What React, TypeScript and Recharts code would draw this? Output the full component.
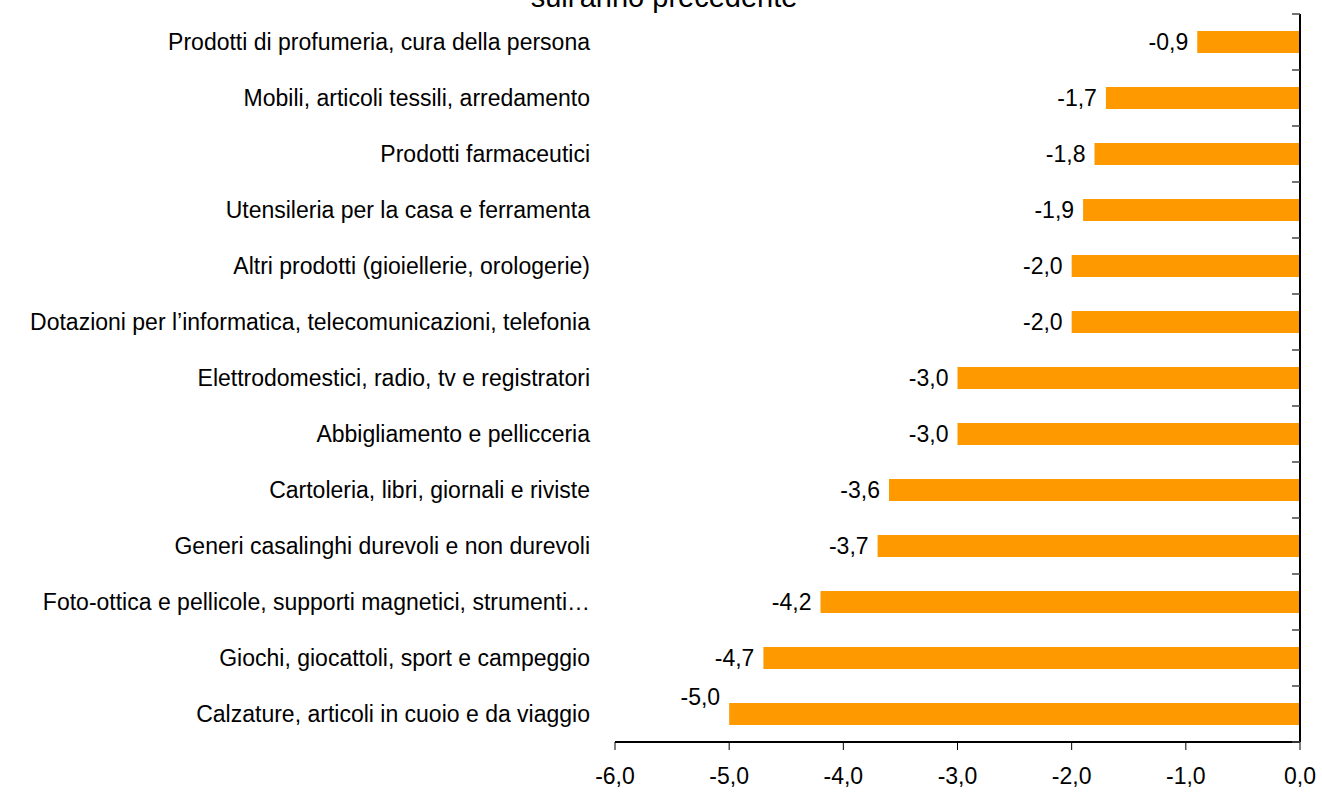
import React from "react";
import { BarChart, Bar, XAxis, YAxis, LabelList, ReferenceLine } from "recharts";

const categories = [
  "Prodotti di profumeria, cura della persona",
  "Mobili, articoli tessili, arredamento",
  "Prodotti farmaceutici",
  "Utensileria per la casa e ferramenta",
  "Altri prodotti (gioiellerie, orologerie)",
  "Dotazioni per l’informatica, telecomunicazioni, telefonia",
  "Elettrodomestici, radio, tv e registratori",
  "Abbigliamento e pellicceria",
  "Cartoleria, libri, giornali e riviste",
  "Generi casalinghi durevoli e non durevoli",
  "Foto-ottica e pellicole, supporti magnetici, strumenti…",
  "Giochi, giocattoli, sport e campeggio",
  "Calzature, articoli in cuoio e da viaggio",
];
const values = [-0.9, -1.7, -1.8, -1.9, -2.0, -2.0, -3.0, -3.0, -3.6, -3.7, -4.2, -4.7, -5.0];
const xTicks = [-6, -5, -4, -3, -2, -1, 0];
const title = "sull'anno precedente";

const data = categories.map((c, i) => ({ name: c, value: values[i] }));
const FONT = "'Liberation Sans', Arial, sans-serif";
const fmt = (v: number) => v.toFixed(1).replace(".", ",");

const CatTick = (props: any) => {
  const { x, y, payload } = props;
  return (
    <text x={x} y={y} dy="0.35em" textAnchor="end" fontFamily={FONT} fontSize={23} fill="#000">
      {payload.value}
    </text>
  );
};

// boundary tick marks on the right axis (between categories)
const BoundaryTick = (props: any) => {
  const { x, y, payload, index } = props;
  const half = payload && typeof payload.offset === "number" && payload.offset > 0 ? payload.offset : 28;
  const last = index === categories.length - 1;
  return (
    <g>
      <line x1={x - 8} x2={x} y1={y - half} y2={y - half} stroke="#444" strokeWidth={1.5} />
      {last && <line x1={x - 8} x2={x} y1={y + half} y2={y + half} stroke="#444" strokeWidth={1.5} />}
    </g>
  );
};

const XTick = (props: any) => {
  const { x, y, payload } = props;
  return (
    <text x={x} y={y} dy={32} textAnchor="middle" fontFamily={FONT} fontSize={23} fill="#000">
      {fmt(payload.value)}
    </text>
  );
};

const ValueLabel = (props: any) => {
  const { x, y, width, height, value, index } = props;
  const left = Math.min(x, x + width);
  let ty = y + height / 2;
  if (index === values.length - 1) ty -= 17;
  return (
    <text x={left - 9} y={ty} dy="0.35em" textAnchor="end" fontFamily={FONT} fontSize={23} fill="#000">
      {fmt(value)}
    </text>
  );
};

export default function App() {
  return (
    <div style={{ position: "absolute", left: 0, top: 0, width: 1322, height: 792, background: "#fff" }}>
      <svg width={1322} height={30} style={{ position: "absolute", left: 0, top: 0 }}>
        <text x={664} y={7} textAnchor="middle" fontFamily={FONT} fontSize={29} fill="#000">
          {title}
        </text>
      </svg>
      <BarChart
        width={1322}
        height={792}
        data={data}
        layout="vertical"
        margin={{ top: 14, right: 21, bottom: 0, left: 0 }}
      >
        <XAxis
          type="number"
          domain={[-6, 0]}
          ticks={xTicks}
          height={50}
          axisLine={{ stroke: "#000", strokeWidth: 2 }}
          tickLine={{ stroke: "#000", strokeWidth: 1 }}
          tickSize={8}
          tick={<XTick />}
          interval={0}
        />
        <YAxis
          type="category"
          dataKey="name"
          width={615}
          axisLine={false}
          tickLine={false}
          tickSize={0}
          tickMargin={25}
          tick={<CatTick />}
          interval={0}
        />
        <YAxis
          yAxisId="r"
          orientation="right"
          type="category"
          dataKey="name"
          width={1}
          tickSize={0}
          tickMargin={0}
          axisLine={{ stroke: "#000", strokeWidth: 2 }}
          tickLine={false}
          tick={<BoundaryTick />}
          interval={0}
        />
        <Bar dataKey="value" fill="#FF9900" barSize={22} isAnimationActive={false}>
          <LabelList dataKey="value" content={<ValueLabel />} />
        </Bar>
        <ReferenceLine x={0} stroke="#000" strokeWidth={2} />
      </BarChart>
    </div>
  );
}
